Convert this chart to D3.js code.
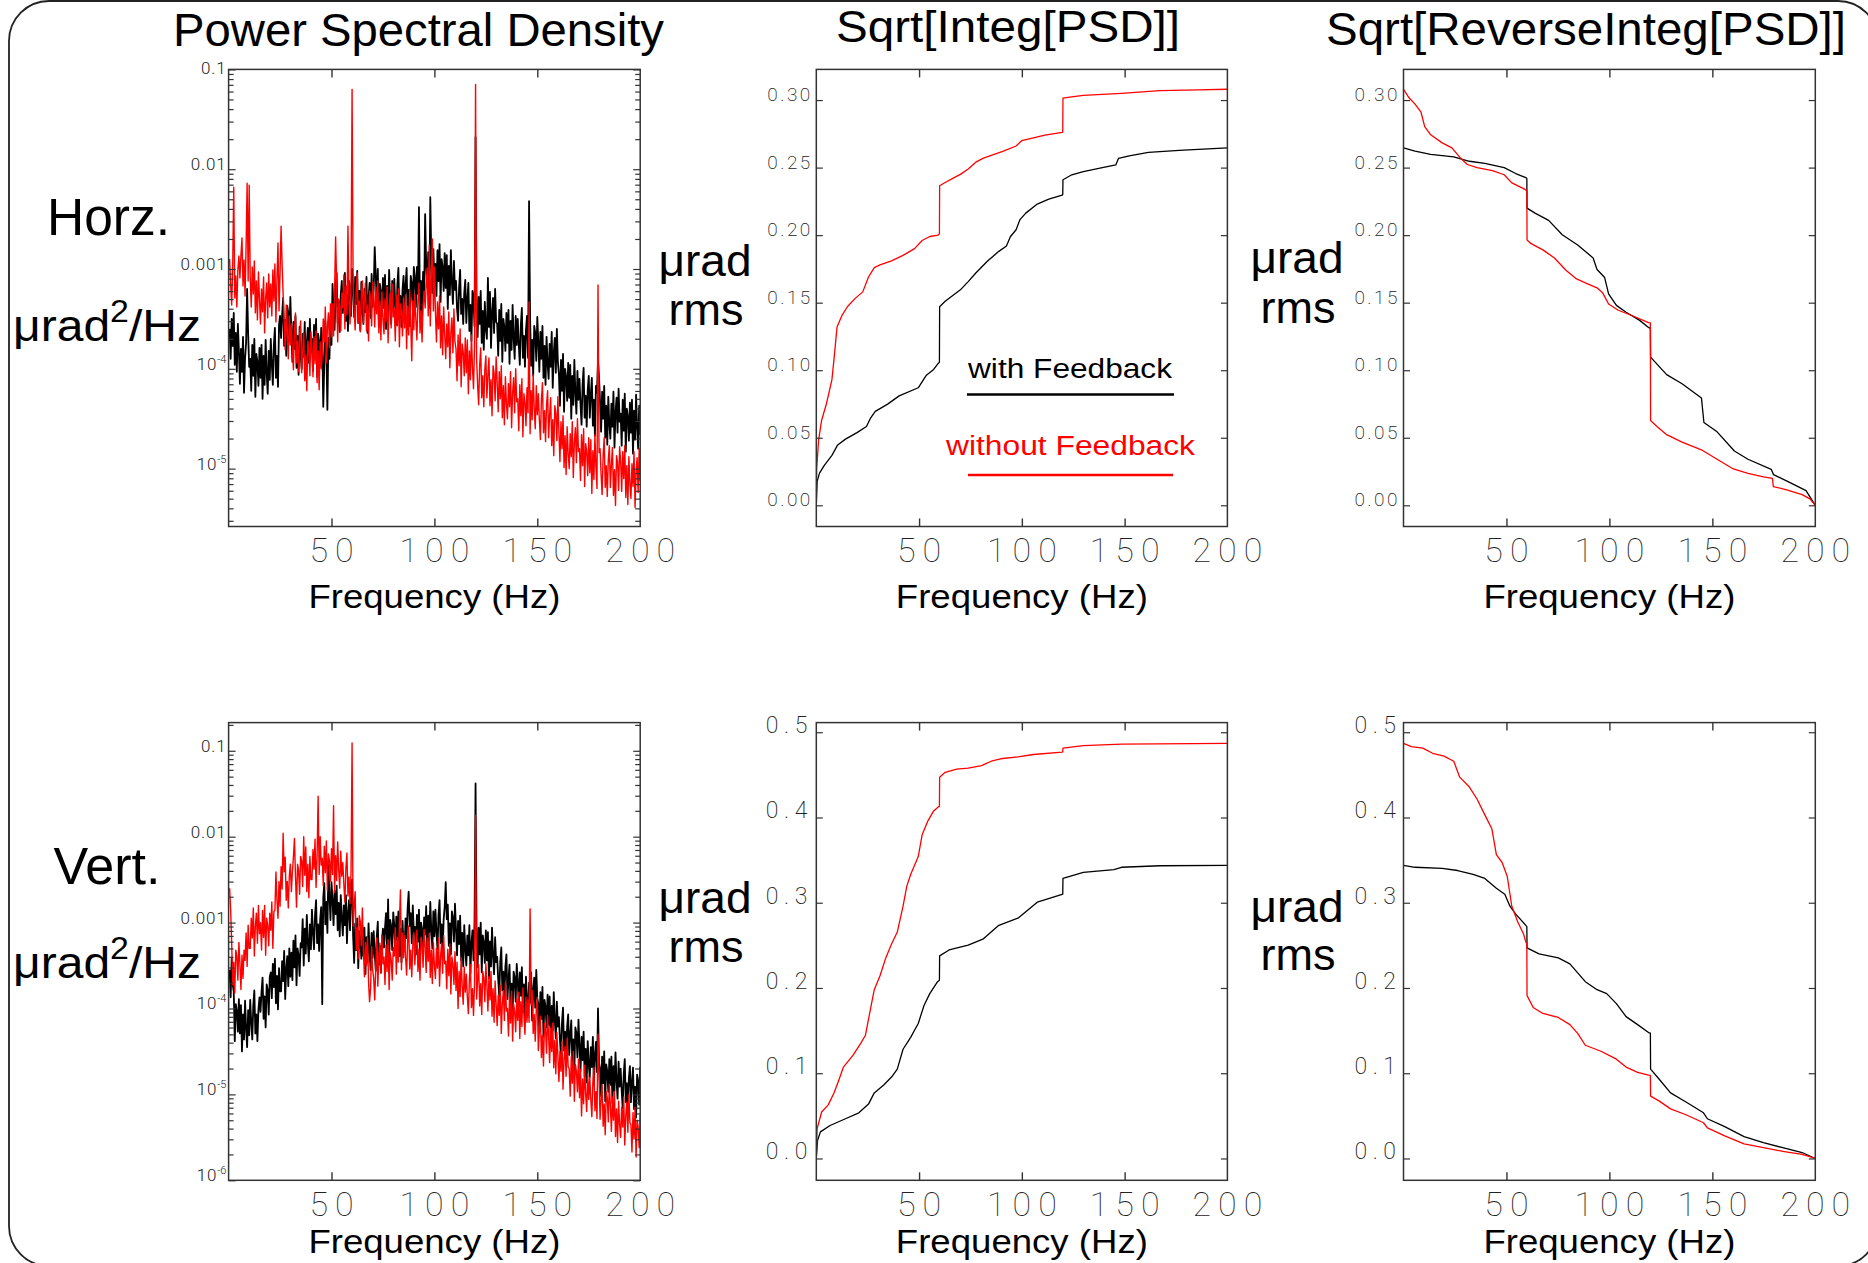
<!DOCTYPE html>
<html><head><meta charset="utf-8">
<script src="https://cdnjs.cloudflare.com/ajax/libs/d3/7.8.5/d3.min.js"></script>
<style>
html,body{margin:0;padding:0;background:#fff;}
svg{display:block;}
</style></head><body>
<svg id="chart" width="1868" height="1263"></svg>
<script>
// ---------------- DATA ----------------
// PSD grid: 0.5 Hz .. 200 Hz, step 0.5 Hz; values are log10(urad^2/Hz)
const psdFreqStart = 0.5, psdFreqStep = 0.5;

const horzWithFeedbackLog10 = [
-3.60,-3.90,-3.50,-3.77,-3.44,-3.96,-3.64,-4.03,-3.55,-3.82,
-4.15,-3.80,-4.03,-3.68,-4.24,-3.89,-3.74,-3.20,-3.65,-3.98,
-3.90,-4.22,-3.76,-4.07,-3.70,-4.28,-3.85,-3.93,-4.17,-3.79,
-4.09,-3.76,-4.30,-3.87,-4.16,-3.71,-4.04,-4.25,-3.82,-4.11,
-3.70,-3.96,-4.16,-3.76,-3.59,-4.09,-3.87,-4.18,-3.56,-3.47,
-3.69,-3.46,-3.29,-3.77,-3.51,-3.87,-3.37,-3.44,-3.72,-3.28,
-3.63,-3.93,-3.53,-3.80,-3.47,-3.99,-3.67,-4.06,-3.58,-3.85,
-4.00,-3.65,-3.88,-3.53,-4.09,-3.74,-3.59,-3.94,-3.50,-3.83,
-3.70,-4.02,-3.56,-3.87,-3.50,-4.08,-3.65,-3.73,-3.97,-3.59,
-3.74,-4.38,-3.95,-3.52,-3.81,-4.41,-3.69,-3.90,-3.47,-3.76,
-3.15,-3.41,-3.61,-3.21,-3.04,-3.54,-3.32,-3.63,-3.26,-3.12,
-3.44,-3.21,-3.04,-3.52,-3.26,-3.62,-3.12,-3.19,-3.47,-3.00,
-3.18,-3.48,-3.08,-3.35,-3.02,-3.54,-3.22,-3.61,-3.13,-3.40,
-3.55,-3.20,-3.43,-3.08,-3.64,-3.29,-3.14,-3.49,-3.05,-3.38,
-3.20,-2.78,-3.06,-3.37,-3.00,-3.58,-3.15,-3.23,-3.47,-3.09,
-3.39,-3.06,-3.60,-3.17,-3.46,-3.01,-3.34,-3.55,-3.12,-3.41,
-3.10,-3.36,-3.56,-3.16,-2.99,-3.49,-3.27,-3.58,-3.21,-3.07,
-3.39,-3.16,-2.99,-3.47,-3.21,-3.57,-3.07,-3.14,-3.42,-2.98,
-3.08,-3.38,-2.98,-3.25,-2.38,-3.44,-3.12,-3.51,-3.03,-3.30,
-2.45,-2.95,-3.18,-2.83,-3.39,-2.28,-2.89,-3.24,-2.80,-3.13,
-2.95,-3.27,-2.81,-3.12,-2.75,-3.33,-2.90,-2.98,-3.22,-2.84,
-3.19,-2.86,-3.40,-2.97,-3.26,-2.81,-3.14,-3.35,-2.92,-3.21,
-3.12,-3.40,-3.52,-3.19,-3.01,-3.45,-3.30,-3.55,-3.24,-3.11,
-3.54,-3.31,-3.14,-3.62,-3.36,-3.72,-3.22,-3.29,-3.57,-1.68,
-3.38,-3.68,-3.28,-3.55,-3.22,-3.74,-3.42,-3.81,-3.33,-3.60,
-3.70,-3.09,-3.58,-3.23,-3.79,-3.44,-3.29,-3.64,-3.20,-3.53,
-3.55,-3.87,-3.41,-3.72,-3.35,-3.93,-3.50,-3.58,-3.82,-3.44,
-3.74,-3.41,-3.95,-3.52,-3.81,-3.36,-3.69,-3.90,-3.47,-3.76,
-3.50,-3.76,-3.96,-3.56,-3.39,-3.89,-3.67,-3.98,-3.61,-3.47,
-3.89,-2.32,-3.49,-3.97,-3.71,-4.07,-3.57,-3.64,-3.92,-3.48,
-3.73,-4.03,-3.63,-3.90,-3.57,-4.09,-3.77,-4.16,-3.68,-3.95,
-4.10,-3.75,-3.98,-3.63,-4.19,-3.84,-3.69,-4.04,-3.60,-3.93,
-4.05,-4.37,-3.91,-4.22,-3.85,-4.43,-4.00,-4.08,-4.32,-3.94,
-4.29,-3.96,-4.50,-4.07,-4.36,-3.91,-4.24,-4.45,-4.02,-4.31,
-4.10,-4.36,-4.56,-4.16,-3.99,-4.49,-4.27,-4.58,-4.21,-4.07,
-4.49,-4.26,-4.09,-4.57,-4.31,-4.67,-4.17,-4.24,-3.92,-4.08,
-4.33,-4.63,-4.23,-4.50,-4.17,-4.69,-4.37,-4.76,-4.28,-4.55,
-4.70,-4.35,-4.58,-4.23,-4.79,-4.44,-4.29,-4.64,-4.20,-4.53,
-4.45,-4.77,-4.31,-4.62,-4.25,-4.83,-4.40,-4.48,-4.72,-4.34,
-4.64,-4.31,-4.85,-4.42,-4.71,-4.26,-4.59,-4.80,-4.37,-4.66];

const horzWithoutFeedbackLog10 = [
-2.90,-3.16,-3.36,-2.96,-2.18,-3.29,-3.07,-3.38,-3.01,-2.87,
-3.09,-2.86,-2.69,-3.17,-2.91,-3.27,-2.77,-2.14,-3.12,-2.16,
-3.08,-3.38,-2.98,-3.25,-2.92,-3.44,-3.12,-3.51,-3.03,-3.30,
-3.55,-3.20,-3.43,-3.08,-3.64,-3.29,-3.14,-3.49,-3.05,-3.38,
-3.15,-3.47,-3.01,-3.32,-2.95,-3.53,-3.10,-2.74,-3.42,-3.04,
-2.57,-2.96,-3.25,-3.52,-3.81,-3.36,-3.69,-3.90,-3.47,-3.76,
-3.55,-3.81,-4.01,-3.61,-3.44,-3.94,-3.72,-4.03,-3.66,-3.52,
-4.04,-3.81,-3.64,-4.12,-3.86,-4.22,-3.72,-3.79,-4.07,-3.63,
-3.78,-4.08,-3.68,-3.95,-3.62,-4.14,-3.82,-4.21,-3.73,-4.00,
-3.85,-3.50,-3.73,-3.38,-3.94,-3.59,-3.44,-3.79,-3.35,-3.68,
-3.35,-3.67,-3.21,-2.68,-3.15,-3.73,-3.30,-3.38,-3.62,-3.24,
-3.39,-3.06,-3.60,-3.17,-3.46,-2.57,-3.34,-3.55,-3.12,-1.20,
-3.15,-3.41,-3.61,-3.21,-3.04,-3.54,-3.32,-3.63,-3.26,-3.12,
-3.54,-3.31,-3.14,-3.62,-3.36,-3.72,-3.22,-3.29,-3.57,-3.13,
-3.28,-3.58,-3.18,-3.45,-3.12,-3.64,-3.32,-3.71,-3.23,-3.50,
-3.65,-3.30,-3.53,-3.18,-3.74,-3.39,-3.24,-3.59,-3.15,-3.48,
-3.40,-3.72,-3.26,-3.57,-3.20,-3.78,-3.35,-3.43,-3.67,-3.29,
-3.59,-3.26,-3.80,-3.37,-3.66,-3.21,-3.54,-3.92,-3.32,-3.61,
-3.25,-3.51,-3.71,-3.31,-3.14,-3.64,-3.42,-3.73,-3.36,-3.22,
-3.39,-3.16,-2.99,-3.47,-2.76,-3.57,-3.07,-2.70,-3.42,-2.98,
-3.43,-3.73,-3.33,-3.60,-3.27,-3.79,-3.47,-3.86,-3.38,-3.65,
-3.90,-3.55,-3.78,-3.43,-3.99,-3.64,-3.49,-3.84,-3.40,-3.73,
-3.80,-4.12,-3.66,-3.97,-3.60,-4.18,-3.75,-3.83,-4.07,-3.69,
-4.04,-3.71,-4.25,-3.82,-4.11,-3.66,-3.99,-4.20,-3.77,-1.15,
-3.90,-4.16,-4.36,-3.96,-3.79,-4.29,-4.07,-4.38,-4.01,-3.87,
-4.29,-4.06,-3.89,-4.37,-4.11,-4.47,-3.97,-4.04,-4.32,-3.88,
-4.13,-4.43,-4.03,-4.30,-3.97,-4.49,-4.17,-4.56,-4.08,-4.35,
-4.50,-4.15,-4.38,-4.03,-4.59,-4.24,-4.09,-4.44,-4.00,-4.33,
-4.30,-4.62,-4.16,-4.47,-4.10,-4.68,-4.25,-4.33,-4.57,-4.19,
-4.44,-3.33,-4.65,-4.22,-4.51,-4.06,-4.39,-4.60,-4.17,-4.46,
-4.25,-4.51,-4.71,-4.31,-4.14,-4.64,-4.42,-4.73,-4.36,-4.22,
-4.69,-4.46,-4.29,-4.77,-4.51,-4.87,-4.37,-4.44,-4.72,-4.28,
-4.63,-4.93,-4.53,-4.80,-4.47,-4.99,-4.67,-5.06,-4.58,-4.85,
-5.00,-4.65,-4.88,-4.53,-5.09,-4.74,-4.59,-4.94,-4.50,-4.83,
-4.80,-5.12,-4.66,-4.97,-4.60,-5.18,-4.75,-4.83,-5.07,-4.69,
-5.04,-4.71,-5.25,-4.82,-5.11,-4.66,-4.99,-5.20,-3.16,-4.84,
-4.80,-5.06,-5.26,-4.86,-4.69,-5.19,-4.97,-5.28,-4.91,-4.77,
-5.19,-4.96,-4.79,-5.27,-5.01,-5.37,-4.87,-4.94,-5.22,-4.78,
-4.93,-5.23,-4.83,-5.10,-4.77,-5.29,-4.97,-5.36,-4.88,-5.15,
-5.30,-4.95,-5.18,-4.83,-5.39,-5.04,-4.89,-5.24,-4.80,-5.13];

const vertWithFeedbackLog10 = [
-3.55,-3.87,-3.41,-3.72,-3.80,-4.38,-3.95,-4.03,-4.27,-3.89,
-4.29,-3.96,-4.50,-4.07,-4.36,-3.91,-4.24,-4.45,-4.02,-4.31,
-3.90,-4.16,-4.36,-3.96,-3.79,-4.29,-4.07,-4.38,-4.01,-3.87,
-4.04,-3.81,-3.64,-4.12,-3.86,-4.22,-3.72,-3.79,-4.07,-3.63,
-3.58,-3.88,-3.48,-3.75,-3.42,-3.94,-3.62,-4.01,-3.53,-3.80,
-3.80,-3.45,-3.68,-3.33,-3.89,-3.54,-3.39,-3.74,-3.30,-3.63,
-3.35,-3.67,-3.21,-3.52,-3.15,-3.73,-3.30,-3.38,-3.62,-3.24,
-3.29,-2.96,-3.50,-3.07,-3.36,-2.91,-3.24,-3.45,-3.02,-3.31,
-2.85,-3.11,-3.31,-2.91,-2.74,-3.24,-3.02,-3.33,-2.96,-2.82,
-3.95,-2.71,-2.54,-3.02,-2.76,-3.12,-2.33,-2.69,-2.97,-2.53,
-2.73,-3.03,-2.63,-2.90,-2.57,-3.09,-2.77,-3.16,-2.68,-2.95,
-3.15,-2.80,-3.03,-2.68,-3.24,-2.89,-2.74,-3.09,-2.65,-2.50,
-3.15,-3.47,-3.01,-3.32,-2.95,-3.53,-3.10,-3.18,-3.42,-3.04,
-3.39,-3.06,-3.60,-3.17,-3.46,-3.01,-3.34,-3.55,-3.12,-3.41,
-3.10,-3.36,-3.56,-3.16,-2.99,-3.49,-3.27,-3.58,-3.21,-3.07,
-3.29,-3.06,-2.89,-3.37,-2.73,-3.47,-2.97,-3.04,-3.32,-2.88,
-3.03,-3.33,-2.93,-3.20,-2.87,-3.39,-3.07,-3.46,-2.98,-3.25,
-3.30,-2.95,-3.18,-2.83,-2.64,-3.04,-2.89,-3.24,-2.80,-3.13,
-3.05,-3.37,-2.91,-3.22,-2.85,-3.43,-3.00,-3.08,-3.32,-2.94,
-3.14,-2.81,-3.35,-2.92,-3.21,-2.76,-3.09,-3.30,-2.87,-3.16,
-2.85,-3.11,-3.31,-2.91,-2.74,-3.24,-3.02,-3.33,-2.96,-2.82,
-2.53,-2.96,-2.79,-3.27,-3.01,-3.37,-2.87,-2.94,-3.22,-2.78,
-3.08,-3.38,-2.98,-3.25,-2.92,-3.44,-3.12,-3.51,-3.03,-3.30,
-3.50,-3.15,-3.38,-3.03,-3.59,-3.24,-3.09,-3.44,-3.00,-1.38,
-3.20,-3.52,-3.06,-3.37,-3.00,-3.58,-3.15,-3.23,-3.47,-3.09,
-3.44,-3.11,-3.65,-3.22,-3.51,-3.06,-3.39,-3.60,-3.17,-3.46,
-3.40,-3.66,-3.86,-3.46,-3.29,-3.79,-3.57,-3.88,-3.51,-3.37,
-3.89,-3.66,-3.49,-3.97,-3.71,-4.07,-3.57,-3.64,-3.92,-3.48,
-3.68,-3.98,-3.58,-3.85,-3.52,-4.04,-3.72,-4.11,-3.63,-3.90,
-4.05,-3.70,-3.93,-3.58,-4.14,-3.79,-3.64,-3.99,-3.55,-3.88,
-3.95,-4.27,-3.81,-4.12,-3.75,-4.33,-3.90,-3.98,-4.22,-3.84,
-4.19,-3.86,-4.40,-3.97,-4.26,-3.81,-4.14,-4.35,-3.92,-4.21,
-4.10,-4.36,-4.56,-4.16,-3.99,-4.49,-4.27,-4.58,-4.21,-4.07,
-4.54,-4.31,-4.14,-4.62,-4.36,-4.72,-4.22,-4.29,-4.57,-4.13,
-4.43,-4.73,-4.33,-4.60,-4.27,-4.79,-4.47,-4.86,-4.38,-4.65,
-4.80,-4.45,-4.68,-4.33,-4.89,-4.54,-4.39,-4.74,-4.00,-4.63,
-4.70,-5.02,-4.56,-4.87,-4.50,-5.08,-4.65,-4.73,-4.97,-4.59,
-4.89,-4.56,-5.10,-4.67,-4.96,-4.51,-4.84,-5.05,-4.62,-4.91,
-4.70,-4.96,-5.16,-4.76,-4.59,-5.09,-4.87,-5.18,-4.81,-4.67,
-5.09,-4.86,-4.69,-5.17,-4.91,-5.27,-4.77,-4.84,-5.12,-4.68];

const vertWithoutFeedbackLog10 = [
-2.60,-2.85,-3.24,-3.72,-3.46,-3.82,-3.32,-3.39,-3.67,-3.23,
-3.48,-3.78,-3.38,-3.65,-3.32,-3.44,-3.12,-3.51,-3.03,-3.30,
-3.30,-2.95,-3.18,-2.83,-3.39,-3.04,-2.89,-3.24,-2.80,-3.13,
-3.00,-3.32,-2.86,-3.17,-2.80,-3.38,-2.95,-3.03,-3.27,-2.89,
-3.09,-2.76,-3.30,-2.87,-2.86,-2.41,-2.74,-2.95,-2.52,-2.81,
-2.35,-2.61,-1.96,-2.41,-2.24,-2.74,-2.52,-2.83,-2.46,-2.32,
-2.64,-2.41,-2.24,-2.02,-2.46,-2.82,-2.32,-2.39,-2.67,-2.23,
-2.28,-2.58,-2.00,-2.45,-2.12,-2.64,-2.32,-2.71,-2.23,-2.50,
-2.50,-2.15,-2.38,-2.03,-2.59,-2.24,-1.53,-2.44,-2.00,-2.33,
-2.25,-2.57,-2.11,-2.42,-2.05,-2.63,-2.20,-2.28,-2.52,-2.14,
-2.44,-1.64,-2.65,-2.22,-2.51,-2.06,-2.39,-2.60,-2.17,-2.46,
-2.30,-2.56,-2.76,-2.36,-2.19,-2.69,-2.47,-2.78,-2.41,-0.91,
-3.04,-2.81,-2.64,-3.32,-3.06,-3.42,-2.92,-2.99,-3.27,-2.83,
-3.33,-3.63,-3.23,-3.50,-3.17,-3.69,-3.92,-3.76,-3.28,-3.55,
-3.65,-3.90,-3.53,-3.18,-3.74,-3.39,-3.24,-3.59,-3.15,-3.48,
-3.40,-3.72,-3.26,-3.57,-3.20,-3.78,-3.35,-3.43,-3.67,-3.29,
-3.39,-3.06,-3.60,-3.17,-3.46,-3.01,-2.62,-3.55,-3.12,-3.41,
-3.15,-3.41,-3.61,-3.21,-3.04,-3.54,-3.32,-3.63,-3.26,-3.12,
-3.49,-3.26,-3.09,-3.57,-3.31,-3.67,-3.17,-3.24,-3.52,-3.08,
-3.28,-3.58,-3.18,-3.45,-3.12,-3.64,-3.32,-3.71,-3.23,-3.50,
-3.65,-3.30,-3.53,-3.18,-3.74,-3.39,-3.24,-3.59,-3.15,-3.48,
-3.45,-3.77,-3.31,-3.62,-3.25,-3.83,-3.40,-3.48,-3.72,-3.34,
-3.79,-3.46,-4.00,-3.57,-3.86,-3.41,-3.74,-3.95,-3.52,-3.81,
-3.60,-3.86,-4.06,-3.66,-3.49,-3.99,-3.77,-4.08,-3.71,-1.75,
-3.89,-3.66,-3.49,-3.97,-3.71,-4.07,-3.57,-3.64,-3.92,-3.48,
-3.73,-4.03,-3.63,-3.90,-3.57,-4.09,-3.77,-4.16,-3.68,-3.95,
-4.20,-3.85,-4.08,-3.73,-4.29,-3.94,-3.79,-4.14,-3.70,-4.03,
-4.00,-4.32,-3.86,-4.17,-3.80,-4.38,-3.95,-4.03,-4.27,-3.89,
-4.14,-3.81,-4.35,-3.92,-4.21,-3.76,-4.09,-4.30,-3.87,-4.16,
-3.90,-4.16,-2.84,-3.96,-3.79,-4.29,-4.07,-4.38,-4.01,-3.87,
-4.49,-4.26,-4.09,-4.57,-4.31,-4.67,-4.17,-4.24,-4.52,-4.08,
-4.33,-4.63,-4.23,-4.50,-4.17,-4.69,-4.37,-4.76,-4.28,-4.55,
-4.85,-4.50,-4.73,-4.38,-4.94,-4.59,-4.44,-4.79,-4.35,-4.68,
-4.70,-5.02,-4.56,-4.87,-4.50,-5.08,-4.65,-4.73,-4.97,-4.59,
-5.04,-4.71,-5.25,-4.82,-5.11,-4.66,-4.99,-5.20,-4.77,-5.06,
-4.80,-5.06,-5.26,-4.86,-4.69,-5.19,-4.97,-5.28,-4.30,-4.77,
-5.29,-5.06,-4.89,-5.37,-5.11,-5.47,-4.97,-5.04,-5.32,-4.88,
-5.13,-5.43,-5.03,-5.30,-4.97,-5.49,-5.17,-5.56,-5.08,-5.35,
-5.50,-5.15,-5.38,-5.03,-5.59,-5.24,-5.09,-5.44,-5.00,-5.33,
-5.35,-5.67,-5.21,-5.52,-5.15,-5.73,-5.30,-5.38,-5.62,-5.24];

// Sqrt[Integ[PSD]] (urad rms) — Horz
const horzIntegWithFreq = [0,0.4,1.5,3.9,7.6,10.4,14.2,19.8,24.4,26.3,28.7,34.7,40.3,49.6,53.4,57.1,59.3,59.9,60.0,62.7,70.1,73.9,77.6,83.2,88.8,92.5,94.4,97.2,99.1,101.9,107.5,113.1,119.6,119.9,120.0,124.3,129.9,139.2,145.7,147,152.2,161.6,176.5,200];
const horzIntegWith = [0,0.0175,0.0236,0.0296,0.037,0.0447,0.049,0.0538,0.0583,0.0643,0.0695,0.0749,0.081,0.087,0.096,0.1006,0.105,0.106,0.147,0.151,0.1595,0.1656,0.172,0.1807,0.188,0.192,0.1988,0.204,0.2115,0.2163,0.223,0.2266,0.2296,0.230,0.241,0.2447,0.2471,0.250,0.252,0.2568,0.2586,0.2613,0.2628,0.2646];
const horzIntegWithoutFreq = [0,0.2,1.1,2.6,4.9,7.6,8.6,10.1,12.3,15.1,18.8,22.6,25.4,28.2,31,36.6,42.2,47.8,51.5,55.2,59.3,59.9,60.0,62.7,66.4,70.1,73.9,77.6,81.3,85.1,90.7,97.2,100,105.6,111.2,119.6,119.9,120.0,122.4,129.9,148.5,167.2,185.8,200];
const horzIntegWithout = [0,0.027,0.048,0.063,0.075,0.093,0.108,0.132,0.140,0.147,0.153,0.158,0.169,0.176,0.178,0.181,0.185,0.190,0.196,0.199,0.2,0.201,0.2366,0.239,0.242,0.245,0.249,0.254,0.257,0.259,0.262,0.266,0.270,0.272,0.274,0.276,0.2765,0.3015,0.302,0.3035,0.305,0.307,0.3076,0.308];

// Sqrt[ReverseInteg[PSD]] — Horz
const horzRevWithFreq = [0,5.6,13.2,24.4,32,39.5,48.9,54.5,59.4,59.9,60.0,63.9,70.5,77.1,84.6,92.1,94,97.7,99.6,103.4,108.1,114.7,119,119.9,120.0,127.8,135.3,144.7,145.9,152.3,160.7,167.3,178.6,179.7,188,195.5,200];
const horzRevWith = [0.2646,0.2622,0.2598,0.258,0.2547,0.2532,0.250,0.2456,0.2426,0.242,0.22,0.2163,0.2109,0.2003,0.1927,0.1831,0.1746,0.1686,0.1565,0.148,0.1429,0.1369,0.1317,0.131,0.1097,0.0967,0.09,0.0795,0.0613,0.0544,0.0402,0.0341,0.0266,0.0227,0.0166,0.0109,0];
const horzRevWithoutFreq = [0,2.8,5.6,8.5,10.3,13.2,18.8,23.5,27.3,31,35.7,43.2,48.9,52.6,58.3,59.9,60.0,62,67.7,73.3,78.9,83.6,88.3,94,96.8,99.6,104.3,110.9,119,119.9,120.0,123.1,127.8,135.3,144.7,152.3,159.8,167.3,174.8,179.2,179.6,186.1,193.6,197.4,200];
const horzRevWithout = [0.308,0.3015,0.297,0.291,0.2804,0.2743,0.2683,0.2646,0.2577,0.2523,0.250,0.2477,0.2447,0.2387,0.2344,0.233,0.1964,0.1937,0.1891,0.1831,0.174,0.168,0.1647,0.161,0.1571,0.149,0.1444,0.1405,0.1353,0.135,0.0628,0.0583,0.0523,0.0468,0.0411,0.0341,0.0272,0.0236,0.0211,0.0199,0.0139,0.0115,0.0079,0.0048,0];

// Sqrt[Integ[PSD]] — Vert
const vertIntegWithFreq = [0,0.6,2,6.7,14.2,20.7,25.4,28.2,32.8,36.6,39.4,42.2,45.9,49.6,52.4,55.2,59,59.9,60.0,64.6,73.9,81.3,88.8,98.1,107.5,119.6,119.9,120.0,129.9,144.8,148.5,167.2,200];
const vertIntegWith = [0,0.021,0.0312,0.0387,0.0466,0.0536,0.0638,0.0769,0.0862,0.0955,0.1048,0.1281,0.1421,0.1584,0.1794,0.1934,0.2074,0.209,0.2377,0.2446,0.2502,0.2577,0.2735,0.2819,0.3006,0.3099,0.31,0.3285,0.3355,0.3388,0.3416,0.3434,0.3439];
const vertIntegWithoutFreq = [0,0.4,2.6,5.8,8.6,10.8,13.2,17.9,21.6,23.9,26.3,28.2,31,33.8,36.6,39.4,42.2,44,45.9,49.6,51.5,54.3,57.1,59.3,59.9,60.0,62.7,68.3,73.9,80.4,85.1,90.7,98.1,105.6,119.6,119.9,120.0,129.9,148.5,200];
const vertIntegWithout = [0,0.035,0.0545,0.0629,0.0769,0.0909,0.1072,0.1212,0.1351,0.1445,0.1747,0.198,0.2144,0.2353,0.2516,0.2656,0.2959,0.3192,0.3332,0.3541,0.3798,0.3961,0.4077,0.4124,0.413,0.4473,0.453,0.4567,0.458,0.4609,0.466,0.4692,0.4711,0.4739,0.4767,0.477,0.4814,0.4842,0.486,0.487];

// Sqrt[ReverseInteg[PSD]] — Vert
const vertRevWithFreq = [0,5.6,18.8,26.3,33.8,39.5,45.1,49.2,51.7,54.5,59.4,59.9,60.0,65.8,75.2,80.8,88.3,94,98.7,103.4,108.1,113.7,119,119.9,120.0,124.1,129.7,137.2,145.7,147.6,156,165.4,174.8,184.2,193.6,200];
const vertRevWith = [0.3439,0.3416,0.3402,0.3378,0.3332,0.3285,0.3169,0.3099,0.2959,0.2866,0.2735,0.272,0.247,0.24,0.2353,0.2283,0.2074,0.198,0.1934,0.1817,0.1664,0.157,0.1477,0.147,0.1048,0.0932,0.0769,0.0662,0.0536,0.0466,0.0373,0.0256,0.0186,0.0126,0.007,0];
const vertRevWithoutFreq = [0,3.8,9.4,14.1,19.7,24.4,27.3,32,35.7,39.5,42.9,45.1,47.9,50.4,52.6,55.5,58.3,59.4,59.9,60.0,63,67.7,75.2,80.8,84.6,88.3,95.9,103.4,108.1,113.7,119,119.9,120.0,124.1,129.7,137.2,145.7,147.6,156,165.4,174.8,184.2,193.6,200];
const vertRevWithout = [0.487,0.4832,0.4814,0.4753,0.472,0.466,0.4473,0.4357,0.4217,0.4031,0.3868,0.3565,0.3472,0.3308,0.2959,0.2773,0.2633,0.254,0.252,0.191,0.1771,0.1701,0.1654,0.157,0.1468,0.1328,0.1258,0.1165,0.1072,0.1011,0.0979,0.0975,0.0732,0.0676,0.0582,0.0513,0.0419,0.0359,0.0266,0.0172,0.0126,0.0084,0.0047,0];

// Ticks / labels
const freqTicks = [50, 100, 150, 200];
const psdTicksTop = [1e-1, 1e-2, 1e-3, 1e-4, 1e-5];
const psdTicksBottom = [1e-1, 1e-2, 1e-3, 1e-4, 1e-5, 1e-6];
const rmsTicksTop = [0, 0.05, 0.10, 0.15, 0.20, 0.25, 0.30];
const rmsTicksBottom = [0, 0.1, 0.2, 0.3, 0.4, 0.5];
const columnTitles = ["Power Spectral Density", "Sqrt[Integ[PSD]]", "Sqrt[ReverseInteg[PSD]]"];
const rowNames = ["Horz.", "Vert."];
const legendLabels = ["with Feedback", "without Feedback"];
const colorWith = "#000000", colorWithout = "#ff0000";

// ---------------- LAYOUT ----------------
const svg = d3.select('#chart');
const TICKFONT = '"Roboto","Lato","Inter","DejaVu Sans",sans-serif';
const MAINFONT = '"Liberation Sans","Arial",sans-serif';
const cols = [{x0:228.6,x1:640.2},{x0:816.3,x1:1227.4},{x0:1403.5,x1:1815.3}];
const rowsL = [{y0:69.4,y1:526.5},{y0:722.6,y1:1180.3}];

// frame
svg.append('rect').attr('x',9).attr('y',1).attr('width',1869).attr('height',1265)
  .attr('rx',40).attr('ry',40).attr('fill','none').attr('stroke','#222').attr('stroke-width',1.8);

const psdFreq = d3.range(horzWithFeedbackLog10.length).map(i => psdFreqStart + i*psdFreqStep);
const zip = (xs, ys) => xs.map((x,i)=>[x, ys[i]]);
const psdSeries = (arr) => arr.map((v,i)=>[psdFreq[i], Math.pow(10, v)]);

let clipN = 0;
function drawPanel(o){
  const {x0,x1} = cols[o.col], {y0,y1} = rowsL[o.row];
  const x = d3.scaleLinear().domain([0,200]).range([x0,x1]);
  const y = o.yScale.range([y1,y0]);
  const g = svg.append('g');
  const id = 'clip'+(clipN++);
  svg.append('clipPath').attr('id',id).append('rect').attr('x',x0).attr('y',y0).attr('width',x1-x0).attr('height',y1-y0);
  const lg = g.append('g').attr('clip-path',`url(#${id})`);
  o.series.forEach(s=>{
    lg.append('path').datum(s.data).attr('fill','none').attr('stroke',s.color)
      .attr('stroke-width',s.width).attr('stroke-linejoin','round')
      .attr('d', d3.line().x(d=>x(d[0])).y(d=>y(d[1])));
  });
  const xt = freqTicks.filter(v=>v<200);
  g.append('g').attr('transform',`translate(0,${y1})`).call(d3.axisBottom(x).tickValues(xt).tickSize(-8).tickFormat(''))
    .call(a=>{a.select('.domain').remove(); a.selectAll('line').attr('stroke','#333').attr('stroke-width',1.4);});
  g.append('g').attr('transform',`translate(0,${y0})`).call(d3.axisTop(x).tickValues(xt).tickSize(-8).tickFormat(''))
    .call(a=>{a.select('.domain').remove(); a.selectAll('line').attr('stroke','#333').attr('stroke-width',1.4);});
  const yMajor = o.yTicks.filter(v => y(v) >= y0-0.5 && y(v) <= y1+0.5);
  const addY = (vals, len) => {
    g.append('g').attr('transform',`translate(${x0},0)`).call(d3.axisLeft(y).tickValues(vals).tickSize(-len).tickFormat(''))
      .call(a=>{a.select('.domain').remove(); a.selectAll('line').attr('stroke','#333').attr('stroke-width',1.2);});
    g.append('g').attr('transform',`translate(${x1},0)`).call(d3.axisRight(y).tickValues(vals).tickSize(-len).tickFormat(''))
      .call(a=>{a.select('.domain').remove(); a.selectAll('line').attr('stroke','#333').attr('stroke-width',1.2);});
  };
  addY(yMajor, o.log ? 7 : 6.5);
  if (o.log){
    const dom = y.domain(); const minor = [];
    for (let e=-7; e<0; e++) for (let m=2; m<10; m++){ const v=m*Math.pow(10,e); if (v>dom[0] && v<dom[1]) minor.push(v); }
    addY(minor, 5);
  }
  g.append('rect').attr('x',x0).attr('y',y0).attr('width',x1-x0).attr('height',y1-y0)
    .attr('fill','none').attr('stroke','#333').attr('stroke-width',1.5);
  // x tick labels
  freqTicks.forEach(v=>{
    g.append('text').attr('x',x(v)+3.5).attr('y',y1+35.5).attr('text-anchor','middle')
      .attr('font-family',TICKFONT).attr('font-weight',100).attr('font-size',34)
      .attr('letter-spacing',7).attr('fill','#222').text(v);
  });
  // y tick labels
  yMajor.forEach(v=>{
    let yy = y(v) + 1;
    if (Math.abs(y(v)-y0) < 3) yy += 4;
    const t = g.append('text').attr('x',x0 - o.labelGap + o.labelSpacing).attr('y',yy).attr('text-anchor','end')
      .attr('font-family',TICKFONT).attr('font-weight',o.labelWeight).attr('font-size',o.labelSize)
      .attr('letter-spacing',o.labelSpacing).attr('fill','#222');
    if (o.log){
      const e = Math.round(Math.log10(v));
      if (e >= -3) t.text(v.toFixed(-e));
      else { t.append('tspan').text('10'); t.append('tspan').attr('dy',-7).attr('font-size',11).attr('letter-spacing',0).text(String(e)); }
    } else t.text(v.toFixed(o.labelDigits));
  });
  // x title
  g.append('text').attr('x',(x0+x1)/2).attr('y', o.row===0 ? 608 : 1252.5).attr('text-anchor','middle')
    .attr('font-family',MAINFONT).attr('font-size',33).attr('textLength',252).attr('lengthAdjust','spacingAndGlyphs')
    .attr('fill','#000').text('Frequency (Hz)');
  return {x,y,g};
}

[0,1].forEach(r=>{
  const H = r===0;
  drawPanel({col:0,row:r,log:true,
    yScale: d3.scaleLog().domain(H ? [Math.pow(10,-5.58), 0.1] : [1e-6, Math.pow(10,-0.672)]),
    yTicks: H ? psdTicksTop : psdTicksBottom, labelGap:3, labelSpacing:0.8, labelSize:17, labelWeight:300,
    series:[
      {data: psdSeries(H ? horzWithFeedbackLog10 : vertWithFeedbackLog10), color:colorWith, width:1.8},
      {data: psdSeries(H ? horzWithoutFeedbackLog10 : vertWithoutFeedbackLog10), color:colorWithout, width:1.4}
    ]});
  drawPanel({col:1,row:r,log:false,
    yScale: d3.scaleLinear().domain(H ? [-0.0157, 0.3227] : [-0.0256, 0.5113]),
    yTicks: H ? rmsTicksTop : rmsTicksBottom, labelGap: H ? 6 : 9, labelSpacing: H ? 2.5 : 5.5, labelSize: H ? 19 : 23, labelDigits: H ? 2 : 1, labelWeight:200,
    series:[
      {data: zip(H ? horzIntegWithFreq : vertIntegWithFreq, H ? horzIntegWith : vertIntegWith), color:colorWith, width:1.3},
      {data: zip(H ? horzIntegWithoutFreq : vertIntegWithoutFreq, H ? horzIntegWithout : vertIntegWithout), color:colorWithout, width:1.3}
    ]});
  drawPanel({col:2,row:r,log:false,
    yScale: d3.scaleLinear().domain(H ? [-0.0157, 0.3227] : [-0.0256, 0.5113]),
    yTicks: H ? rmsTicksTop : rmsTicksBottom, labelGap: H ? 6 : 7.5, labelSpacing: H ? 2.5 : 5.5, labelSize: H ? 19 : 23, labelDigits: H ? 2 : 1, labelWeight:200,
    series:[
      {data: zip(H ? horzRevWithFreq : vertRevWithFreq, H ? horzRevWith : vertRevWith), color:colorWith, width:1.3},
      {data: zip(H ? horzRevWithoutFreq : vertRevWithoutFreq, H ? horzRevWithout : vertRevWithout), color:colorWithout, width:1.3}
    ]});
});

// column titles
const titleSpec = [{x:418.5,y:45.5,w:491,s:46},{x:1008,y:42,w:344,s:45},{x:1586,y:44.5,w:520,s:46}];
columnTitles.forEach((t,i)=>{
  svg.append('text').attr('x',titleSpec[i].x).attr('y',titleSpec[i].y).attr('text-anchor','middle')
    .attr('font-family',MAINFONT).attr('font-size',titleSpec[i].s).attr('textLength',titleSpec[i].w).attr('lengthAdjust','spacingAndGlyphs')
    .attr('fill','#000').text(t);
});

// row labels
const rowSpec = [{name:{x:108.5,y:234.7,w:123}, unit:{y:341}}, {name:{x:107,y:884.3,w:107}, unit:{y:977.7}}];
rowNames.forEach((n,i)=>{
  svg.append('text').attr('x',rowSpec[i].name.x).attr('y',rowSpec[i].name.y).attr('text-anchor','middle')
    .attr('font-family',MAINFONT).attr('font-size',51).attr('textLength',rowSpec[i].name.w).attr('lengthAdjust','spacingAndGlyphs')
    .attr('fill','#000').text(n);
  const u = svg.append('text').attr('x',107).attr('y',rowSpec[i].unit.y).attr('text-anchor','middle')
    .attr('font-family',MAINFONT).attr('font-size',44).attr('fill','#000');
  u.append('tspan').text('\u03bcrad');
  u.append('tspan').attr('dy',-18.6).attr('font-size',31).text('2');
  u.append('tspan').attr('dy',18.6).text('/Hz');
  u.attr('textLength',188).attr('lengthAdjust','spacingAndGlyphs');
});

// "urad rms" labels
const rmsLabelSpec = [
  {x:705,y1:275.5,y2:324.5},{x:1297,y1:273,y2:322.5},
  {x:705,y1:913,y2:962},{x:1297,y1:922,y2:970}
];
rmsLabelSpec.forEach(s=>{
  svg.append('text').attr('x',s.x).attr('y',s.y1).attr('text-anchor','middle')
    .attr('font-family',MAINFONT).attr('font-size',45).attr('textLength',93).attr('lengthAdjust','spacingAndGlyphs')
    .attr('fill','#000').text('\u03bcrad');
  svg.append('text').attr('x',s.x+1).attr('y',s.y2).attr('text-anchor','middle')
    .attr('font-family',MAINFONT).attr('font-size',45).attr('textLength',75).attr('lengthAdjust','spacingAndGlyphs')
    .attr('fill','#000').text('rms');
});

// legend (in Horz integ panel)
const legSpec = [
  {x:1070,y:378,w:204,color:colorWith,ly:394.5,lx0:967,lx1:1174},
  {x:1070.5,y:455,w:249,color:colorWithout,ly:475,lx0:968,lx1:1173}
];
legendLabels.forEach((l,i)=>{
  const s = legSpec[i];
  svg.append('text').attr('x',s.x).attr('y',s.y).attr('text-anchor','middle')
    .attr('font-family',MAINFONT).attr('font-size',27).attr('textLength',s.w).attr('lengthAdjust','spacingAndGlyphs')
    .attr('fill',s.color).text(l);
  svg.append('line').attr('x1',s.lx0).attr('x2',s.lx1).attr('y1',s.ly).attr('y2',s.ly)
    .attr('stroke',s.color).attr('stroke-width',2.5);
});
</script>
</body></html>
